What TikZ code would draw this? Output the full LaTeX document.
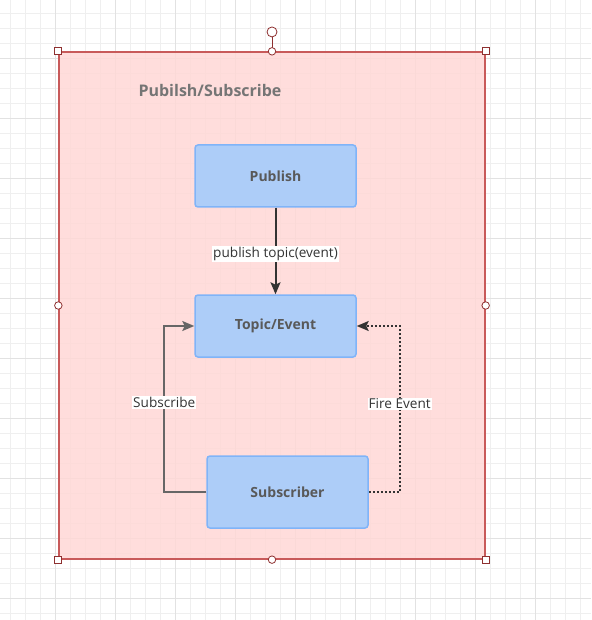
\documentclass[tikz,border=0pt]{standalone}
\usepackage{fontspec}
\setmainfont{Open Sans}
\usetikzlibrary{arrows.meta,calc}
\definecolor{gridminor}{HTML}{EFEFEF}
\definecolor{gridmajor}{HTML}{E2E2E2}
\definecolor{pinkfill}{HTML}{FFD8D6}
\definecolor{pinkline}{HTML}{C85A5A}
\definecolor{handle}{HTML}{8E3030}
\definecolor{boxfill}{HTML}{ADCDF8}
\definecolor{boxline}{HTML}{80B4F8}
\definecolor{boxtext}{HTML}{595959}
\definecolor{titletext}{HTML}{757575}
\definecolor{darkline}{HTML}{333333}
\definecolor{grayline}{HTML}{666666}
\tikzset{
  blockbox/.style={draw=boxline, fill=boxfill, line width=1.5pt, rounded corners=3pt,
    minimum width=161pt, inner sep=0pt, font=\fontsize{14}{16}\selectfont\bfseries, text=boxtext},
  lbl/.style={fill=white, inner sep=1.2pt, text=darkline, font=\fontsize{13.6}{15}\selectfont},
  sqhandle/.style={draw=handle, fill=white, line width=0.8pt, minimum size=7pt, inner sep=0pt},
  cihandle/.style={draw=handle, fill=white, line width=0.8pt, circle, minimum size=7.5pt, inner sep=0pt},
  tip/.style={-{Stealth[length=12pt,width=10pt,inset=2.5pt]}}
}
\begin{document}
\begin{tikzpicture}[x=1pt,y=-1pt]
\useasboundingbox (0,0) rectangle (591,620);
\fill[white] (0,0) rectangle (591,620);
% grid
\foreach \i in {0,...,39} { \draw[gridminor, line width=0.8pt] ({10+15*\i},0) -- ({10+15*\i},620); }
\foreach \i in {0,...,41} { \draw[gridminor, line width=0.8pt] (0,{13+15*\i}) -- (591,{13+15*\i}); }
\foreach \i in {0,...,9} { \draw[gridmajor, line width=0.8pt] ({55+60*\i},0) -- ({55+60*\i},620); }
\foreach \i in {0,...,10} { \draw[gridmajor, line width=0.8pt] (0,{58+60*\i}) -- (591,{58+60*\i}); }
% container
\node[draw=pinkline, fill=pinkfill, fill opacity=0.85, draw opacity=1, line width=1.3pt,
  minimum width=426pt, minimum height=507pt, inner sep=0pt] (frame) at (272,305.5) {};
\node[font=\fontsize{16}{18}\selectfont\bfseries, text=titletext] (title) at (210,91) {Pubilsh/Subscribe};
% boxes
\node[blockbox, minimum height=62pt] (pub) at (275.5,176) {Publish};
\node[blockbox, minimum height=62pt] (topic) at (275.5,326) {Topic/Event};
\node[blockbox, minimum height=72pt] (sub) at (287.5,492) {Subscriber};
% connectors
\draw[tip, darkline, line width=2pt] (pub.south) -- node[lbl, pos=0.53]{publish topic(event)} (topic.north);
\draw[tip, grayline, line width=2pt] (sub.west) -- ++(-42,0) coordinate (c1)
  -- (c1 |- topic.west) node[lbl, pos=0.54]{Subscribe} -- (topic.west);
\draw[tip, darkline, line width=2pt, dash pattern=on 2pt off 2pt] (sub.east) -- ++(31,0) coordinate (c2)
  -- (c2 |- topic.east) node[lbl, pos=0.53]{Fire Event} -- (topic.east);
% selection handles
\draw[handle, line width=0.8pt] (frame.north) -- ++(0,-14) node[cihandle, minimum size=10pt, anchor=south] (rot) {};
\node[sqhandle] (h1) at (frame.north west) {};
\node[sqhandle] (h2) at (frame.north east) {};
\node[sqhandle] (h3) at (frame.south west) {};
\node[sqhandle] (h4) at (frame.south east) {};
\node[cihandle] (h5) at (frame.north) {};
\node[cihandle] (h6) at (frame.south) {};
\node[cihandle] (h7) at (frame.west) {};
\node[cihandle] (h8) at (frame.east) {};
\end{tikzpicture}
\end{document}
